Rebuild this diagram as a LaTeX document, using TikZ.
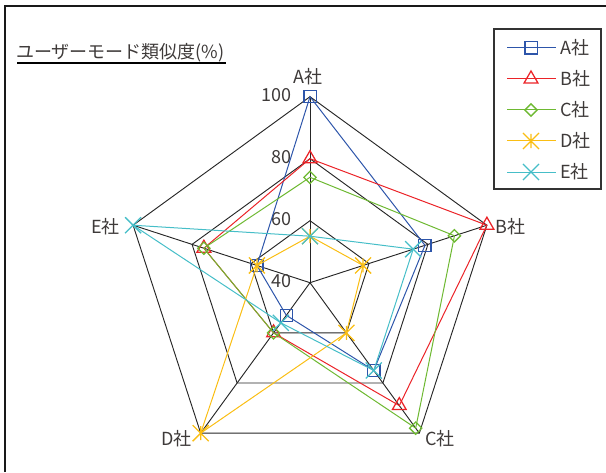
\documentclass[tikz,border=0pt]{standalone}
\usepackage{fontspec}
\setmainfont{Noto Sans CJK JP}
\usepackage{tikz}
\usetikzlibrary{calc}
\usetikzlibrary{plotmarks}
\definecolor{txtgray}{RGB}{62,58,57}
\definecolor{seriesA}{RGB}{45,85,170}
\definecolor{seriesB}{RGB}{235,35,40}
\definecolor{seriesC}{RGB}{110,185,50}
\definecolor{seriesD}{RGB}{250,190,20}
\definecolor{seriesE}{RGB}{70,190,200}
\pgfdeclareplotmark{starx}{%
  \pgfpathmoveto{\pgfqpoint{0pt}{-.62\pgfplotmarksize}}%
  \pgfpathlineto{\pgfqpoint{0pt}{.62\pgfplotmarksize}}%
  \pgfpathmoveto{\pgfqpoint{-.7071\pgfplotmarksize}{-.7071\pgfplotmarksize}}%
  \pgfpathlineto{\pgfqpoint{.7071\pgfplotmarksize}{.7071\pgfplotmarksize}}%
  \pgfpathmoveto{\pgfqpoint{-.7071\pgfplotmarksize}{.7071\pgfplotmarksize}}%
  \pgfpathlineto{\pgfqpoint{.7071\pgfplotmarksize}{-.7071\pgfplotmarksize}}%
  \pgfusepathqstroke}
\pgfdeclareplotmark{rhomb}{%
  \pgfpathmoveto{\pgfqpoint{0pt}{\pgfplotmarksize}}%
  \pgfpathlineto{\pgfqpoint{\pgfplotmarksize}{0pt}}%
  \pgfpathlineto{\pgfqpoint{0pt}{-\pgfplotmarksize}}%
  \pgfpathlineto{\pgfqpoint{-\pgfplotmarksize}{0pt}}%
  \pgfpathclose
  \pgfusepathqstroke}
\newcommand{\radpt}[3]{\coordinate(#1) at ($(o)+(#2:{(#3-40)*3.1})$)}
\newcommand{\axlabel}[4]{\node(#1)[axlabel,#2] at (#3) {#4}}

\begin{document}
\begin{tikzpicture}[
        x=0.75pt, y=0.75pt,
        every node/.style={font=\fontsize{13.5pt}{15pt}\selectfont, text=txtgray, inner sep=0pt},
        gridline/.style={line width=0.7pt, draw=black!85},
        frame/.style={line width=1.2pt, draw=black!90},
        series/.style={line width=0.75pt},
        marks/.style={line width=0.95pt},
        marka/.style={mark=square, mark size=4.6pt},
        markb/.style={mark=triangle, mark size=6pt},
        markc/.style={mark=rhomb, mark size=4.6pt},
        markd/.style={mark=starx, mark size=8.5pt},
        marke/.style={mark=x, mark size=8.5pt},
        axlabel/.style={},
        vallabel/.style={anchor=east}
      ]
      \useasboundingbox (0,0) rectangle (606,472);
      \draw[frame] (5,0) -- (5,466) -- (606,466);
      % title
      \node (title) [anchor=base west] at (16,413.5) {ユーザーモード類似度(\%)};
      \coordinate (ulL) at (17,408.7);
      \coordinate (ulR) at (226,408.7);
      \draw[line width=1.7pt, black] (ulL) -- (ulR);
      % grid
      \coordinate (o) at (310,189.3);
      \foreach \lv in {60,80,100}{
        \foreach \ax/\ang in {A/90,B/18,C/-54,D/-126,E/162}
          \radpt{g\lv\ax}{\ang}{\lv};
        \draw[gridline] (g\lv A) -- (g\lv B) -- (g\lv C) -- (g\lv D) -- (g\lv E) -- cycle;
      }
      \foreach \ax in {A,B,C,D,E}
        \draw[gridline] (o) -- (g100\ax);
      \foreach \v in {40,60,80,100}
        \node (v\v) [vallabel] at (292,{189.3+(\v-40)*3.1+2}) {\v};
      \axlabel{labA}{}{308,395.3}{A社};
      \axlabel{labB}{anchor=west}{495,245.3}{B社};
      \axlabel{labC}{anchor=west}{425,33.7}{C社};
      \axlabel{labD}{anchor=east}{192,33.7}{D社};
      \axlabel{labE}{anchor=east}{120,245.3}{E社};
      % data
      \foreach \s/\va/\vb/\vc/\vd/\ve in {a/100/79/75/53/58, b/80/100/89/60/76,
          c/74/89/98/60/76, d/55/58/60/100/58, e/55/75/75/56/100}{
        \radpt{\s A}{90}{\va}; \radpt{\s B}{18}{\vb}; \radpt{\s C}{-54}{\vc};
        \radpt{\s D}{-126}{\vd}; \radpt{\s E}{162}{\ve};
      }
      \foreach \s/\col [count=\i] in {a/seriesA, b/seriesB, c/seriesC, d/seriesD, e/seriesE}{
        \draw[series,\col] (\s A) -- (\s B) -- (\s C) -- (\s D) -- (\s E) -- cycle;
        \draw[marks,\col] plot[only marks, mark\s]
          coordinates {(\s A) (\s B) (\s C) (\s D) (\s E)};
        % legend entry
        \coordinate (lg\s l) at (507,{455-\i*31});
        \coordinate (lg\s m) at (531,{455-\i*31});
        \coordinate (lg\s r) at (556,{455-\i*31});
        \draw[series,\col] (lg\s l) -- (lg\s r);
        \draw[marks,\col] plot[only marks, mark\s] coordinates {(lg\s m)};
      }
      \foreach \s/\t [count=\i] in {a/A社, b/B社, c/C社, d/D社, e/E社}
        \node (lg\s t) [anchor=west] at (560,{455-\i*31}) {\t};
      \draw[line width=0.9pt, black!80] (494,283) rectangle (601,443);
    \end{tikzpicture}
\end{document}
